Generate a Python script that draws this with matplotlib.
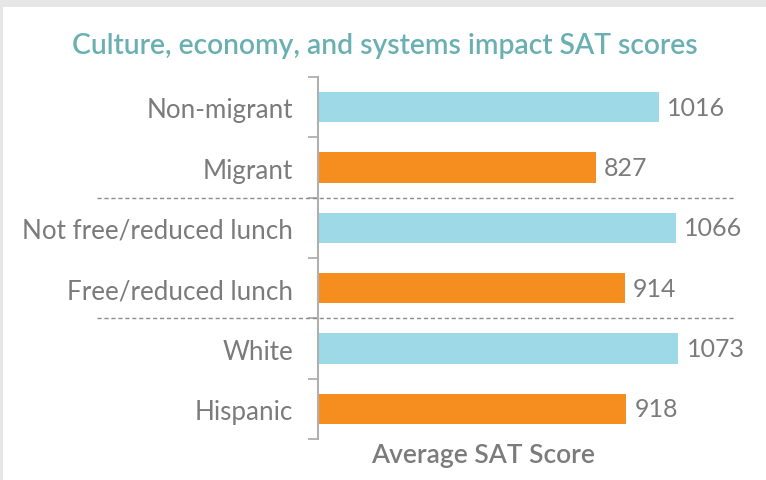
import matplotlib.pyplot as plt
import matplotlib.patches as patches
from matplotlib.lines import Line2D
from matplotlib.transforms import blended_transform_factory

plt.rcParams['font.family'] = ['Lato', 'DejaVu Sans']

categories = ['Non-migrant', 'Migrant', 'Not free/reduced lunch',
              'Free/reduced lunch', 'White', 'Hispanic']
scores = [1016, 827, 1066, 914, 1073, 918]
bar_colors = ['#9dd9e6', '#f68e1f'] * 3
group_breaks = [1.5, 3.5]

title = 'Culture, economy, and systems impact SAT scores'
xlabel = 'Average SAT Score'

GRAY = '#7b7b7b'

W, H = 766, 481
fig = plt.figure(figsize=(W / 100, H / 100), dpi=100)

# light frame around the top and left edge
fig.add_artist(patches.Rectangle((0, 1 - 8 / H), 1, 8 / H, transform=fig.transFigure,
                                 facecolor='#e6e6e6', edgecolor='none'))
fig.add_artist(patches.Rectangle((0, 0), 3 / W, 1, transform=fig.transFigure,
                                 facecolor='#e6e6e6', edgecolor='none'))

left, top, bottom, right = 318, 78, 440, 755
ax = fig.add_axes([left / W, 1 - bottom / H, (right - left) / W, (bottom - top) / H])

px_per_unit = (659 - left) / 1016
ax.set_xlim(0, (right - left) / px_per_unit)
ax.set_ylim(len(categories) - 0.5, -0.5)

y = range(len(categories))
ax.barh(y, scores, height=0.5, color=bar_colors)

for yi, v in zip(y, scores):
    ax.annotate(str(v), (v, yi), xytext=(6, 0), textcoords='offset points',
                va='center', ha='left', fontsize=18, color=GRAY)

for s in ['top', 'right', 'bottom']:
    ax.spines[s].set_visible(False)
ax.spines['left'].set_color('#b0b0b0')
ax.spines['left'].set_linewidth(1.5)
ax.set_xticks([])

ax.set_yticks(list(y))
ax.set_yticklabels(categories, fontsize=18.7, color=GRAY)
ax.tick_params(axis='y', which='major', length=0, pad=18)
ax.set_yticks([i - 0.5 for i in range(len(categories) + 1)], minor=True)
ax.tick_params(axis='y', which='minor', length=7, width=1.3, color='#b0b0b0')

# dotted separators between groups
trans = blended_transform_factory(fig.transFigure, ax.transData)
for yb in group_breaks:
    fig.add_artist(Line2D([97 / W, 735 / W], [yb, yb], transform=trans,
                          color='#8c8c8c', lw=1, linestyle=(0, (3, 2))))

fig.text(385 / W, 1 - 46 / H, title, ha='center', va='center',
         fontsize=20.3, color='#6aafb2', fontweight='semibold')
fig.text(483 / W, 1 - 456 / H, xlabel, ha='center', va='center',
         fontsize=19, color=GRAY, fontweight='semibold')

fig.savefig('out.png', dpi=100, facecolor='white')
